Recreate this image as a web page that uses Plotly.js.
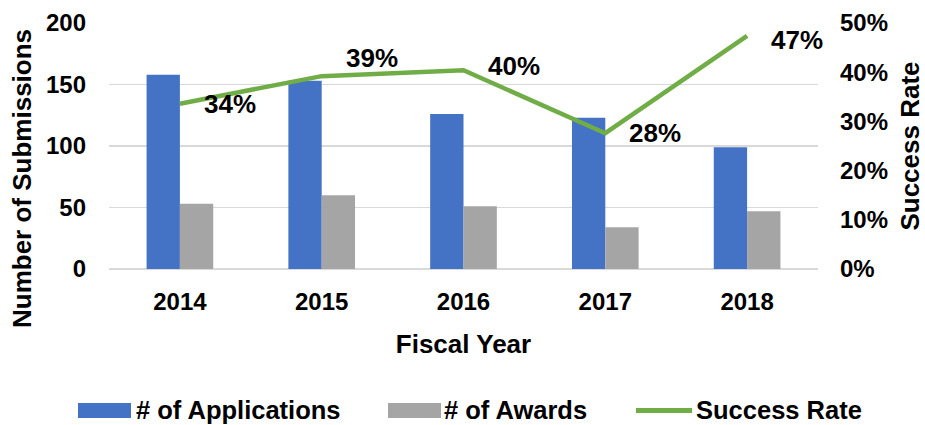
<!DOCTYPE html>
<html>
<head>
<meta charset="utf-8">
<script src="https://cdn.plot.ly/plotly-3.0.1.min.js"></script>
<style>html,body{margin:0;padding:0;background:#fff;}#chart{width:925px;height:425px;}</style>
</head>
<body>
<div id="chart"></div>
<script>
const years = ['2014', '2015', '2016', '2017', '2018'];
const applications = [158, 153, 126, 123, 99];
const awards = [53, 60, 51, 34, 47];
const successRate = [0.336, 0.392, 0.404, 0.276, 0.474];
const seriesNames = ['# of Applications', '# of Awards', 'Success Rate'];
const leftTickVals = [0, 50, 100, 150, 200];
const rightTickVals = [0, 0.1, 0.2, 0.3, 0.4, 0.5];

const FONT = 'Arial, "Liberation Sans", sans-serif';
const BLUE = '#4472C4', GREY = '#A5A5A5', GREEN = '#70AD47';

const W = 925, H = 425;
const M = {l: 109, r: 107, t: 23, b: 156};
const PW = W - M.l - M.r, PH = H - M.t - M.b;
const px = x => (x - M.l) / PW;
const py = y => (H - M.b - y) / PH;

const traces = [
  {type: 'bar', name: seriesNames[0], x: years, y: applications, marker: {color: BLUE}, yaxis: 'y'},
  {type: 'bar', name: seriesNames[1], x: years, y: awards, marker: {color: GREY}, yaxis: 'y'},
  {type: 'scatter', mode: 'lines', name: seriesNames[2], x: years, y: successRate, yaxis: 'y2',
   line: {color: GREEN, width: 4.5}}
];

const bigFont = {family: FONT, size: 26, color: '#000', weight: 'bold'};
const legendFont = {family: FONT, size: 25.5, color: '#000', weight: 'bold'};

// data labels for success rate (category index positions on the x axis)
const labelNudge = [0, 18, 4, 0, -4];
const annotations = successRate.map((v, i) => ({
  xref: 'x', yref: 'y2', x: i, y: v,
  text: Math.round(v * 100) + '%', showarrow: false,
  xshift: 50, yshift: labelNudge[i],
  font: bigFont
}));

// left axis title
annotations.push({
  xref: 'paper', yref: 'paper', x: px(22), y: py(179), xanchor: 'center', yanchor: 'middle',
  text: 'Number of Submissions', textangle: -90, showarrow: false,
  font: bigFont
});

// custom legend
const shapes = [];
const legendY = 410.5;
const legendItems = [
  {kind: 'bar', color: BLUE, x0: 78, x1: 131, tx: 135, name: seriesNames[0]},
  {kind: 'bar', color: GREY, x0: 388, x1: 441, tx: 443, name: seriesNames[1]},
  {kind: 'line', color: GREEN, x0: 636, x1: 692, tx: 695, name: seriesNames[2]}
];
legendItems.forEach(it => {
  if (it.kind === 'bar') {
    shapes.push({type: 'rect', xref: 'paper', yref: 'paper', x0: px(it.x0), x1: px(it.x1),
      y0: py(legendY + 7.5), y1: py(legendY - 7.5), fillcolor: it.color, line: {width: 0}});
  } else {
    shapes.push({type: 'line', xref: 'paper', yref: 'paper', x0: px(it.x0), x1: px(it.x1),
      y0: py(legendY), y1: py(legendY), line: {color: it.color, width: 5}});
  }
  annotations.push({xref: 'paper', yref: 'paper', x: px(it.tx), y: py(legendY - 0.5), xanchor: 'left', yanchor: 'middle',
    text: it.name, showarrow: false, borderpad: 0, font: legendFont});
});

const tickFont = {family: FONT, size: 24, color: '#000', weight: 'bold'};

const layout = {
  width: W, height: H,
  margin: M,
  paper_bgcolor: '#fff', plot_bgcolor: '#fff',
  showlegend: false,
  barmode: 'group', bargap: 0.53, bargroupgap: 0,
  font: {family: FONT, color: '#000'},
  xaxis: {
    type: 'category', range: [-0.5, years.length - 0.5], tickfont: tickFont,
    showgrid: false, showline: false, zeroline: false,
    ticks: '', ticklabelstandoff: 16,
    title: {text: 'Fiscal Year', font: bigFont, standoff: 20}
  },
  yaxis: {
    range: [0, 200], tickvals: leftTickVals, tickfont: tickFont,
    showgrid: true, gridcolor: '#D9D9D9', gridwidth: 1.5,
    zeroline: true, zerolinecolor: '#D9D9D9', zerolinewidth: 1.5,
    showline: false, ticks: '', ticklabelstandoff: 22
  },
  yaxis2: {
    overlaying: 'y', side: 'right', range: [0, 0.5], tickvals: rightTickVals, tickformat: '.0%',
    tickfont: tickFont, showgrid: false, zeroline: false, showline: false, ticks: '', ticklabelstandoff: 21,
    title: {text: 'Success Rate', font: bigFont, standoff: 18}
  },
  annotations: annotations,
  shapes: shapes
};

Plotly.newPlot('chart', traces, layout, {displayModeBar: false, staticPlot: true});
</script>
</body>
</html>
